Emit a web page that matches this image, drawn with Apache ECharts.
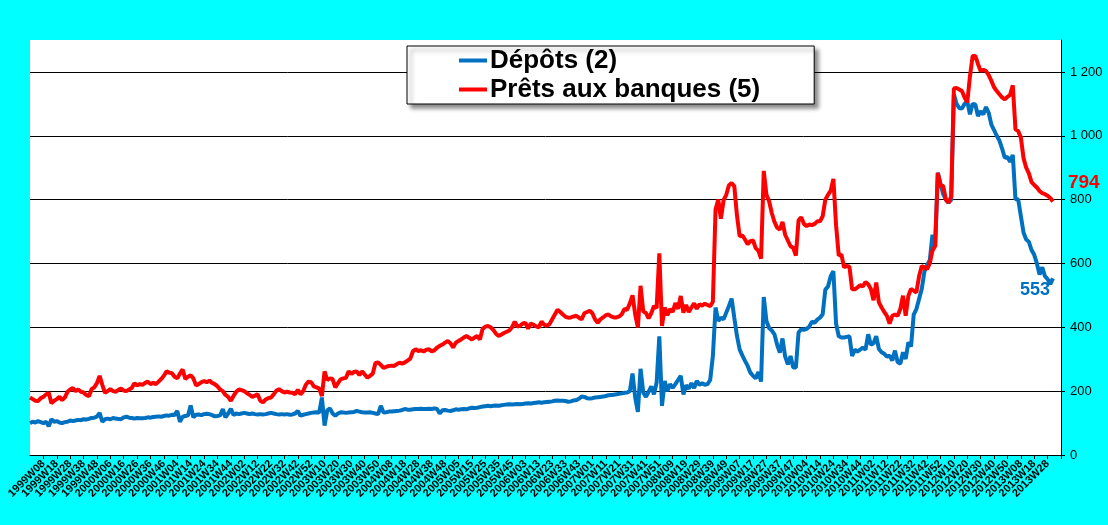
<!DOCTYPE html>
<html>
<head>
<meta charset="utf-8">
<script src="https://cdn.jsdelivr.net/npm/echarts@6/dist/echarts.min.js"></script>
<style>
html,body{margin:0;padding:0;background:#00FFFF;}
#chart{width:1108px;height:525px;}
</style>
</head>
<body>
<div id="chart"></div>
<script>
// ISO weeks per year (used to build the fortnightly week labels)
const weeksPerYear = {1998:53,1999:52,2000:52,2001:52,2002:52,2003:52,2004:53,2005:52,2006:52,2007:52,2008:52,2009:53,2010:52,2011:52,2012:52,2013:52};
const startYear = 1998, startWeek = 51, weekStep = 2, categoryCount = 386;
const categories = [];
(function(){
  let y = startYear, w = startWeek;
  for (let i = 0; i < categoryCount; i++) {
    categories.push(y + 'W' + (w < 10 ? '0' + w : w));
    w += weekStep;
    if (w > weeksPerYear[y]) { w -= weeksPerYear[y]; y++; }
  }
})();
const firstLabel = '1999W08';
const lastLabel = '2013W28';

const seriesNames = ['Dépôts (2)', 'Prêts aux banques (5)'];

const depots = [
100,104,102,106,103,100,104,90,112,104,
106,102,100,103,104,108,106,108,110,109,
112,111,113,116,117,120,132,104,112,114,
112,116,114,113,112,118,120,117,116,114,
116,115,115,116,118,117,119,120,121,120,
122,124,123,126,125,138,104,120,122,124,
155,118,126,127,125,128,129,128,125,121,
122,124,144,118,130,145,125,130,128,130,
132,130,128,130,128,127,128,127,128,130,
132,130,128,127,128,127,128,126,127,130,
138,123,126,128,130,132,133,134,133,180,
92,140,146,130,123,130,134,133,132,133,
134,135,138,136,134,133,133,134,132,130,
128,154,133,134,136,136,137,138,139,141,
144,142,142,143,144,144,145,144,144,145,
144,146,144,130,140,141,139,138,140,143,
142,143,144,143,146,148,147,148,150,152,
153,154,153,154,155,154,156,157,158,159,
158,159,160,159,160,161,162,161,163,164,
165,164,165,166,167,168,170,171,170,170,
169,167,168,171,172,176,183,182,178,177,
178,180,181,182,183,185,187,188,189,190,
192,193,195,196,200,255,180,135,270,196,
182,198,215,190,227,372,154,232,200,222,
210,222,235,248,190,218,208,225,210,232,
220,225,220,222,235,310,462,420,430,425,
446,467,490,430,373,331,312,295,279,258,
248,240,260,230,495,420,398,390,378,345,
321,365,308,284,310,274,274,384,394,392,
395,402,418,414,424,430,441,518,528,560,
576,412,372,368,368,370,372,310,330,324,
330,336,330,378,345,350,372,332,322,317,
308,311,296,327,291,286,322,301,353,340,
440,457,489,520,575,595,610,690,655,884,
850,817,800,790,800,1130,1100,1087,1085,1100,
1108,1067,1100,1098,1062,1077,1067,1090,1072,1035,
1018,1000,985,960,931,934,918,940,801,801,
749,697,675,668,642,627,600,565,588,560,
551,535,553
];

const prets = [
180,175,170,169,178,182,190,195,162,170,
175,182,172,180,198,205,210,200,205,198,
196,188,184,206,212,225,248,220,195,200,
206,200,198,204,208,202,200,205,210,225,
218,222,220,226,230,222,226,222,230,238,
248,262,258,256,245,240,255,268,238,245,
250,240,218,222,228,232,228,233,226,222,
215,205,200,188,182,170,185,198,205,203,
200,194,188,182,186,190,170,165,174,178,
180,190,201,206,200,196,198,196,195,190,
204,190,200,220,230,228,215,212,208,185,
262,235,240,238,212,225,237,240,242,262,
254,260,262,250,262,252,242,248,255,288,
290,282,273,276,279,280,279,285,289,286,
290,296,302,325,331,326,328,324,330,331,
325,328,336,342,346,352,357,350,337,352,
357,362,368,373,367,362,368,373,362,395,
402,404,400,392,380,373,377,382,386,390,
400,418,402,405,412,414,396,412,408,403,
400,418,408,405,410,425,440,455,448,440,
433,430,431,434,436,430,425,444,448,452,
444,425,414,425,431,438,440,434,431,431,
434,441,458,455,475,500,440,400,530,450,
445,428,444,467,460,632,404,462,438,457,
448,476,458,498,446,470,448,462,475,458,
472,468,474,470,466,480,769,800,740,798,
815,845,852,842,750,685,688,675,660,670,
672,648,640,615,890,815,795,758,730,712,
706,730,690,672,654,649,625,735,745,724,
717,722,720,724,732,732,748,800,815,828,
865,720,625,628,588,592,590,519,519,525,
532,528,542,535,520,485,540,478,462,448,
436,412,436,440,436,457,499,436,499,520,
515,509,560,592,588,582,600,640,655,884,
845,843,800,790,810,1148,1150,1145,1140,1120,
1105,1186,1250,1250,1225,1203,1207,1203,1190,1172,
1152,1140,1130,1120,1114,1122,1128,1158,1020,1015,
995,930,900,882,855,846,838,827,820,817,
812,805,794
];

const yMin = 0, yMax = 1300, yInterval = 200;
const colors = ['#0070C0', '#FF0000'];
const FONT = 'Arial, "Liberation Sans", sans-serif';

const firstLabelIndex = categories.indexOf(firstLabel);
const lastLabelIndex = categories.indexOf(lastLabel);
// labels every 10 weeks; the axis ends carry blank placeholders
function showTick(i) { return i === 0 || i === categories.length - 1 || (i % 5 === 0 && i <= lastLabelIndex); }
function labelText(value, i) { return (i < firstLabelIndex || i > lastLabelIndex) ? ' ' : value; }
function fmtThousands(v) { return String(v).replace(/\B(?=(\d{3})+(?!\d))/g, ' '); }

const chart = echarts.init(document.getElementById('chart'), null, {renderer: 'canvas'});
chart.setOption({
  animation: false,
  backgroundColor: '#00FFFF',
  textStyle: {fontFamily: FONT},
  grid: {left: 30, right: 47, top: 40, bottom: 70, show: true, backgroundColor: '#FFFFFF', borderWidth: 0, containLabel: false},
  legend: {
    data: seriesNames,
    orient: 'vertical',
    left: 407, top: 46,
    padding: [0, 54, 0, 52],
    itemGap: 0,
    itemWidth: 28, itemHeight: 4,
    icon: 'rect',
    backgroundColor: '#FFFFFF',
    borderColor: '#000000', borderWidth: 1,
    shadowColor: 'rgba(0,0,0,0.45)', shadowBlur: 4, shadowOffsetX: 4, shadowOffsetY: 4,
    textStyle: {fontFamily: FONT, fontSize: 26, fontWeight: 'bold', color: '#000', lineHeight: 29, padding: [0,0,0,-2]}
  },
  xAxis: {
    type: 'category',
    data: categories,
    boundaryGap: false,
    axisLine: {show: true, lineStyle: {color: '#000', width: 1}},
    axisTick: {show: true, interval: (i) => showTick(i), length: 4, lineStyle: {color: '#000'}},
    axisLabel: {interval: (i) => showTick(i), formatter: labelText, hideOverlap: false, rotate: 45, fontSize: 11, fontWeight: 'bold', color: '#000', fontFamily: FONT, margin: 7},
    splitLine: {show: false}
  },
  yAxis: {
    type: 'value',
    position: 'right',
    min: yMin, max: yMax, interval: yInterval,
    axisLine: {show: true, lineStyle: {color: '#000', width: 1}},
    axisTick: {show: true, length: 4, lineStyle: {color: '#000'}},
    axisLabel: {showMaxLabel: false, fontSize: 13, color: '#000', fontFamily: FONT, margin: 9, formatter: (v) => fmtThousands(v)},
    splitLine: {show: true, showMaxLine: false, showMinLine: false, lineStyle: {color: '#000', width: 1}}
  },
  series: [
    {
      name: seriesNames[0], type: 'line', data: depots, showSymbol: false, symbol: 'none',
      lineStyle: {color: colors[0], width: 4}, itemStyle: {color: colors[0]},
      endLabel: {show: true, formatter: (p) => String(p.value), color: colors[0], fontSize: 18, fontWeight: 'bold', fontFamily: FONT, align: 'right', offset: [-11, 12]}
    },
    {
      name: seriesNames[1], type: 'line', data: prets, showSymbol: false, symbol: 'none',
      lineStyle: {color: colors[1], width: 4}, itemStyle: {color: colors[1]},
      endLabel: {show: true, formatter: (p) => String(p.value), color: colors[1], fontSize: 19, fontWeight: 'bold', fontFamily: FONT, align: 'left', offset: [7, -19]}
    }
  ]
});
</script>
</body>
</html>
